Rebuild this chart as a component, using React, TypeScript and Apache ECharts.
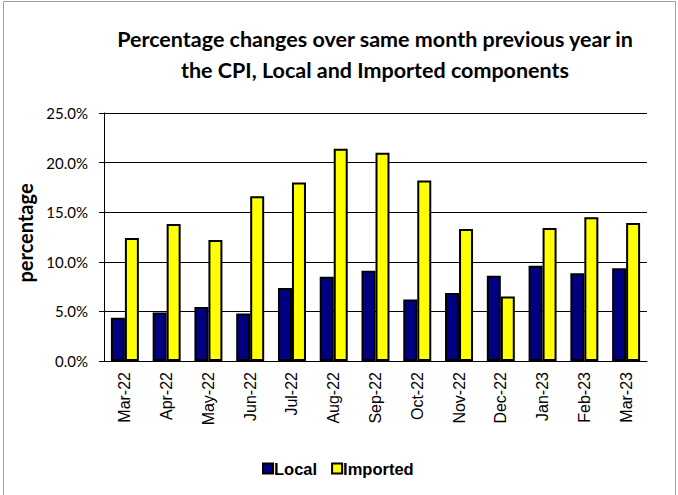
import React, { useEffect, useRef } from "react";
import * as echarts from "echarts";

const categories = ["Mar-22", "Apr-22", "May-22", "Jun-22", "Jul-22", "Aug-22", "Sep-22", "Oct-22", "Nov-22", "Dec-22", "Jan-23", "Feb-23", "Mar-23"];
const localValues = [4.35, 4.9, 5.45, 4.8, 7.35, 8.5, 9.1, 6.2, 6.85, 8.6, 9.6, 8.85, 9.35];
const importedValues = [12.4, 13.8, 12.2, 16.6, 18.0, 21.4, 21.0, 18.2, 13.3, 6.5, 13.4, 14.5, 13.9];
const titleLines = ["Percentage changes over same month previous year in", "the CPI, Local and Imported components"];
const yAxisName = "percentage";

export default function App() {
  const ref = useRef<HTMLDivElement>(null);
  useEffect(() => {
    if (!ref.current) return;
    const chart = echarts.init(ref.current, null, { renderer: "svg" });
    chart.setOption({
      animation: false,
      backgroundColor: "#fff",
      title: {
        text: titleLines.join("\n"),
        left: 370,
        textAlign: "center",
        top: 18,
        textStyle: { fontFamily: "Lato", fontWeight: "bold", fontSize: 21.5, color: "#000", lineHeight: 31 },
      },
      graphic: [
        {
          type: "rect",
          shape: { x: 3.5, y: 1.5, width: 672, height: 510 },
          style: { fill: "none", stroke: "#a0a0a0", lineWidth: 1 },
          silent: true,
        },
        {
          type: "text",
          x: 25,
          y: 233,
          rotation: Math.PI / 2,
          style: { text: yAxisName, fontFamily: "Lato", fontWeight: "bold", fontSize: 20, fill: "#000", align: "center", verticalAlign: "middle" },
        },
      ],
      legend: {
        data: ["Local", "Imported"],
        top: 455,
        left: 257,
        itemWidth: 10,
        itemHeight: 10,
        itemGap: 14,
        icon: "rect",
        textStyle: { fontFamily: "Liberation Sans", fontWeight: "bold", fontSize: 16.5, color: "#000", padding: [0, 0, 0, -4] },
      },
      grid: { left: 104, right: 31, top: 113, bottom: 134 },
      xAxis: {
        type: "category",
        data: categories,
        axisLine: { lineStyle: { color: "#000", width: 1 } },
        axisTick: { show: false },
        axisLabel: { rotate: 90, fontFamily: "Liberation Sans", fontSize: 16, color: "#000", margin: 11 },
      },
      yAxis: {
        type: "value",
        min: 0,
        max: 25,
        interval: 5,
        axisLine: { show: true, lineStyle: { color: "#000", width: 1 } },
        axisTick: { show: true, inside: false, length: 5, lineStyle: { color: "#000" } },
        splitLine: { lineStyle: { color: "#000", width: 1 } },
        axisLabel: { formatter: (v: number) => v.toFixed(1) + "%", fontFamily: "Lato", fontSize: 15, color: "#000", margin: 16 },
      },
      series: [
        {
          name: "Local",
          type: "bar",
          data: localValues,
          barGap: "0%",
          barCategoryGap: "33%",
          itemStyle: { color: "#000080", borderColor: "#000", borderWidth: 2 },
        },
        {
          name: "Imported",
          type: "bar",
          data: importedValues,
          barGap: "0%",
          barCategoryGap: "33%",
          itemStyle: { color: "#FFFF00", borderColor: "#000", borderWidth: 2 },
        },
      ],
    });
    return () => chart.dispose();
  }, []);
  return <div ref={ref} style={{ position: "fixed", left: 0, top: 0, width: 678, height: 495 }} />;
}
